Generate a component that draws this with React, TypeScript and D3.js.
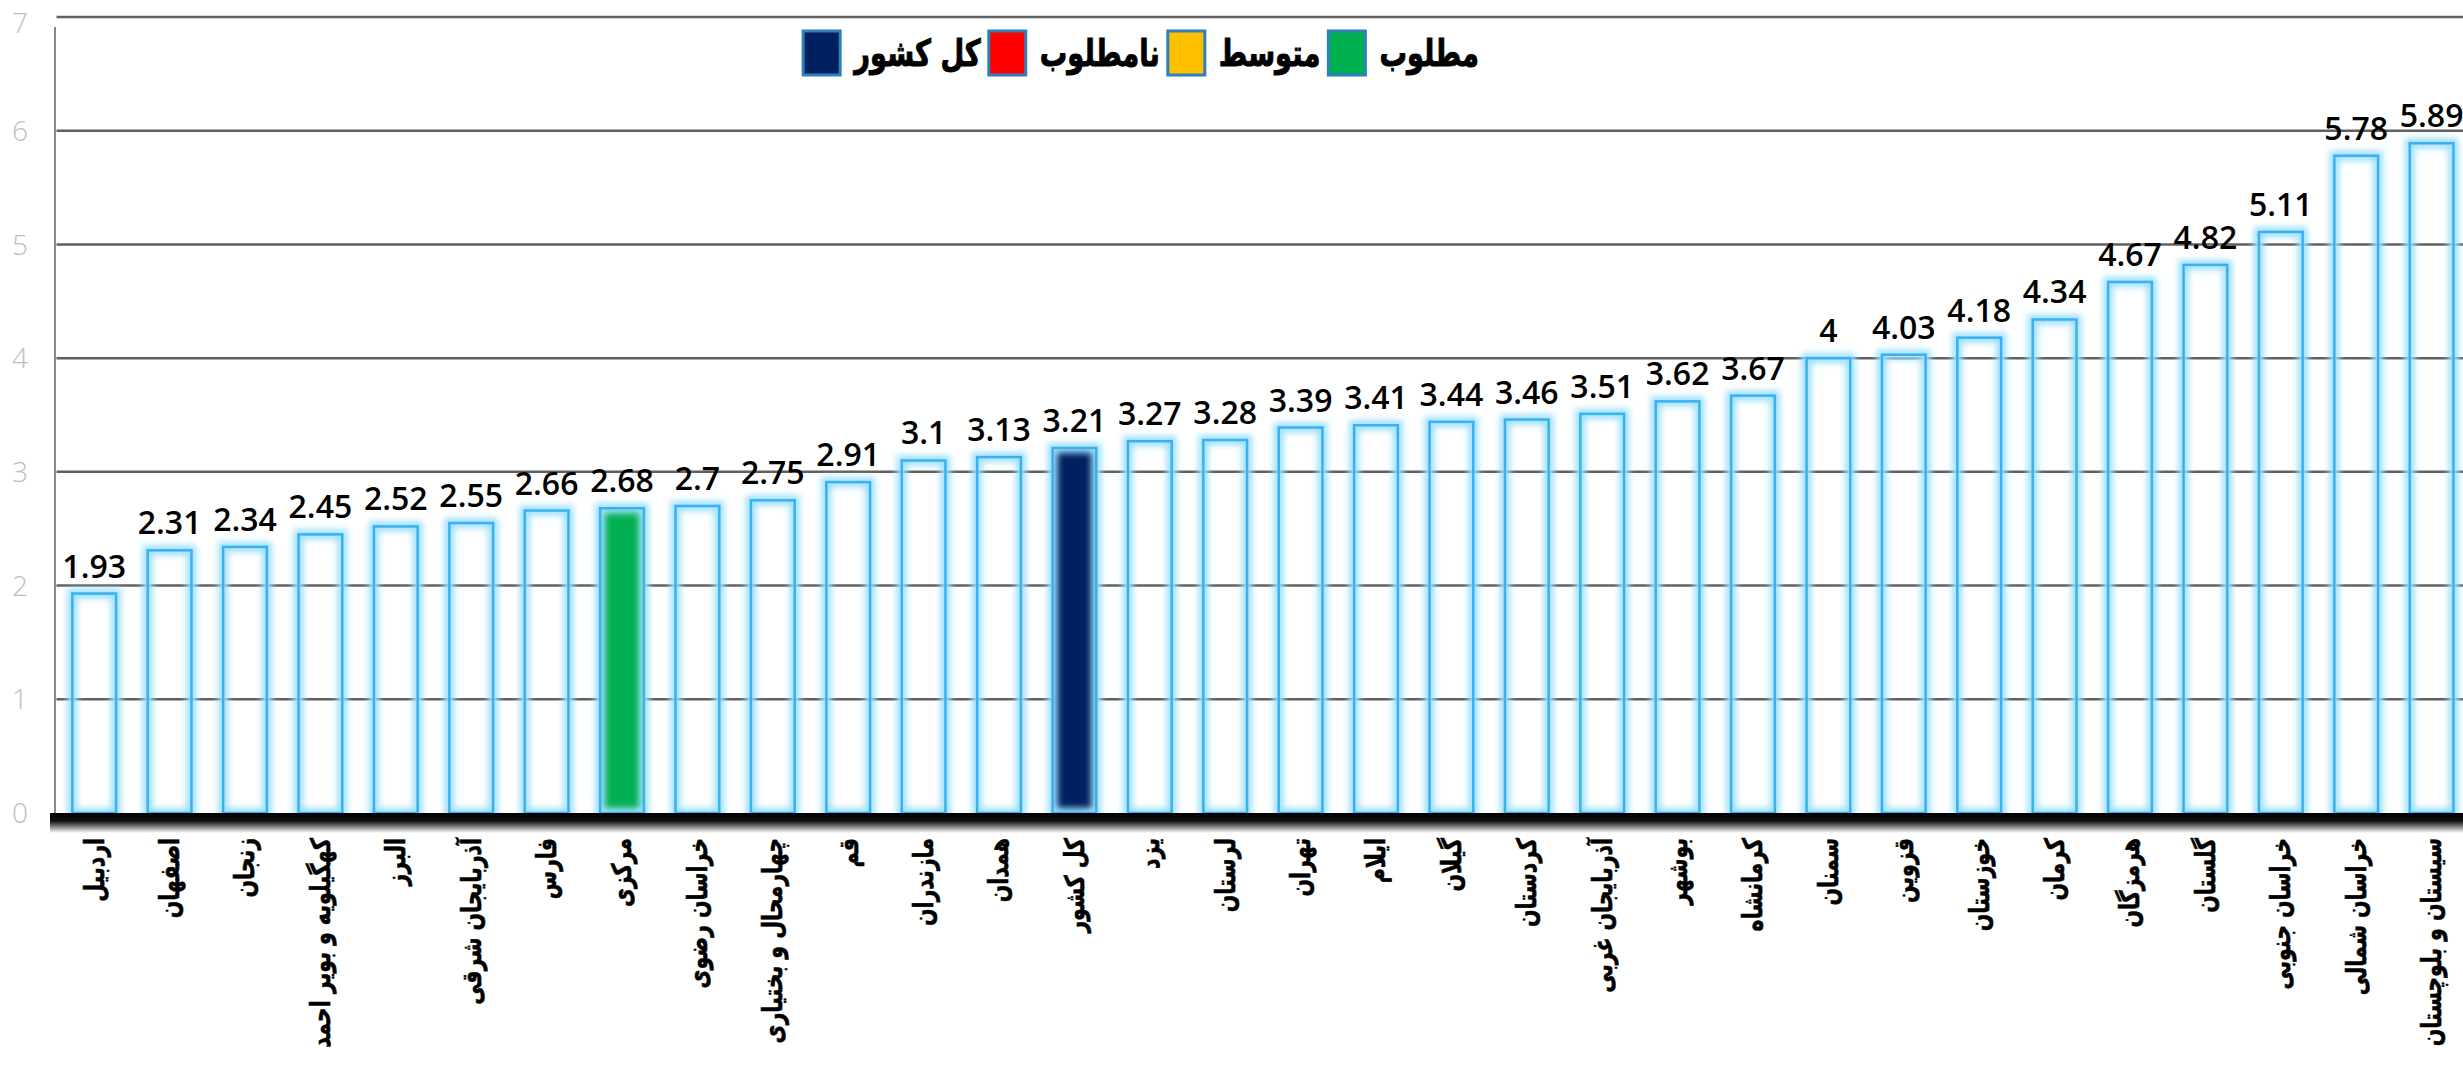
import React, { useEffect, useRef } from "react";
import * as d3 from "d3";

const categories = [
  "اردبیل", "اصفهان", "زنجان", "کهگیلویه و بویر احمد", "البرز", "آذربایجان شرقی",
  "فارس", "مرکزی", "خراسان رضوی", "چهارمحال و بختیاری", "قم", "مازندران", "همدان",
  "کل کشور", "یزد", "لرستان", "تهران", "ایلام", "گیلان", "کردستان", "آذربایجان غربی",
  "بوشهر", "کرمانشاه", "سمنان", "قزوین", "خوزستان", "کرمان", "هرمزگان", "گلستان",
  "خراسان جنوبی", "خراسان شمالی", "سیستان و بلوچستان",
];
const values = [
  1.93, 2.31, 2.34, 2.45, 2.52, 2.55, 2.66, 2.68, 2.7, 2.75, 2.91, 3.1, 3.13, 3.21, 3.27, 3.28,
  3.39, 3.41, 3.44, 3.46, 3.51, 3.62, 3.67, 4, 4.03, 4.18, 4.34, 4.67, 4.82, 5.11, 5.78, 5.89,
];
// which bars are filled, and with which legend class
const desirable = ["مرکزی"];
const national = ["کل کشور"];
const legendKeys = ["مطلوب", "متوسط", "نامطلوب", "کل کشور"];
const legendColors = ["#00b050", "#ffc000", "#ff0000", "#002060"];
const yTicks = [0, 1, 2, 3, 4, 5, 6, 7];

const W = 2463;
const H = 1068;

const App = () => {
  const ref = useRef<SVGSVGElement>(null);

  useEffect(() => {
    const svg = d3.select(ref.current);
    svg.selectAll("*").remove();

    const left = 56.5;
    const step = 75.4;
    const x = d3
      .scaleBand()
      .domain(categories)
      .range([left, left + step * categories.length])
      .paddingInner(0.42)
      .paddingOuter(0.21);
    const y = d3.scaleLinear().domain([0, 7]).range([813, 17]);
    const color = d3.scaleOrdinal<string, string>().domain(legendKeys).range(legendColors);

    const data = categories.map((c, i) => ({
      name: c,
      value: values[i],
      cls: desirable.includes(c) ? "مطلوب" : national.includes(c) ? "کل کشور" : null,
    }));

    const defs = svg.append("defs");
    defs
      .append("filter")
      .attr("id", "glow")
      .attr("x", "-50%")
      .attr("y", "-20%")
      .attr("width", "200%")
      .attr("height", "140%")
      .append("feGaussianBlur")
      .attr("stdDeviation", 3);
    defs
      .append("filter")
      .attr("id", "soft")
      .attr("x", "-200%")
      .attr("y", "-10%")
      .attr("width", "500%")
      .attr("height", "120%")
      .append("feGaussianBlur")
      .attr("stdDeviation", 2);
    const grad = defs
      .append("linearGradient")
      .attr("id", "baseShadow")
      .attr("x1", 0)
      .attr("y1", 0)
      .attr("x2", 0)
      .attr("y2", 1);
    grad.append("stop").attr("offset", 0).attr("stop-color", "#000");
    grad.append("stop").attr("offset", 0.4).attr("stop-color", "#111");
    grad.append("stop").attr("offset", 1).attr("stop-color", "#fff");

    // gridlines
    svg
      .append("g")
      .selectAll("line")
      .data(yTicks.filter((d) => d > 0))
      .enter()
      .append("line")
      .attr("x1", left)
      .attr("x2", W)
      .attr("y1", (d) => y(d))
      .attr("y2", (d) => y(d))
      .attr("stroke", "#606060")
      .attr("stroke-width", 2.5);

    // y axis line with shadow
    svg
      .append("line")
      .attr("x1", 52)
      .attr("x2", 52)
      .attr("y1", y(7) + 12)
      .attr("y2", y(0))
      .attr("stroke", "#555")
      .attr("stroke-width", 4)
      .attr("filter", "url(#soft)");
    svg
      .append("line")
      .attr("x1", 55)
      .attr("x2", 55)
      .attr("y1", y(7) + 10)
      .attr("y2", y(0))
      .attr("stroke", "#8a8a8a")
      .attr("stroke-width", 2);

    // y tick labels
    svg
      .append("g")
      .selectAll("text")
      .data(yTicks)
      .enter()
      .append("text")
      .attr("x", 20)
      .attr("y", (d) => Math.max(y(d), 23))
      .attr("dy", "0.36em")
      .attr("text-anchor", "middle")
      .attr("font-family", "'Open Sans', sans-serif")
      .attr("font-weight", 300)
      .attr("font-size", 28)
      .attr("fill", "#bdbdbd")
      .text((d) => d);

    // bars
    const bars = svg.selectAll(".bar").data(data).enter().append("g").attr("class", "bar");
    bars
      .append("rect")
      .attr("x", (d) => x(d.name)!)
      .attr("y", (d) => y(d.value))
      .attr("width", x.bandwidth())
      .attr("height", (d) => y(0) - y(d.value))
      .attr("fill", (d) => (d.cls ? color(d.cls) : "none"));
    bars
      .append("rect")
      .attr("x", (d) => x(d.name)!)
      .attr("y", (d) => y(d.value))
      .attr("width", x.bandwidth())
      .attr("height", (d) => y(0) - y(d.value))
      .attr("fill", "none")
      .attr("stroke", "#9fe0fc")
      .attr("stroke-width", 10)
      .attr("filter", "url(#glow)");
    bars
      .append("rect")
      .attr("x", (d) => x(d.name)!)
      .attr("y", (d) => y(d.value))
      .attr("width", x.bandwidth())
      .attr("height", (d) => y(0) - y(d.value))
      .attr("fill", "none")
      .attr("stroke", "#38b2ee")
      .attr("stroke-width", 2.5);

    // value labels
    bars
      .append("text")
      .attr("x", (d) => x(d.name)! + x.bandwidth() / 2)
      .attr("y", (d) => y(d.value) - 16)
      .attr("text-anchor", "middle")
      .attr("font-family", "'Open Sans', sans-serif")
      .attr("font-weight", 600)
      .attr("font-size", 32)
      .attr("fill", "#000")
      .text((d) => d.value);

    // x axis base with shadow
    svg
      .append("rect")
      .attr("x", 50)
      .attr("y", y(0))
      .attr("width", W - 50)
      .attr("height", 20)
      .attr("fill", "url(#baseShadow)");

    // category labels, condensed heavy text reading top to bottom
    svg
      .append("g")
      .selectAll("text")
      .data(categories)
      .enter()
      .append("text")
      .attr(
        "transform",
        (d) => `translate(${x(d)! + x.bandwidth() / 2},838) rotate(-90) scale(0.76,1)`
      )
      .attr("dy", "0.35em")
      .attr("text-anchor", "end")
      .attr("font-family", "'DejaVu Sans', sans-serif")
      .attr("font-weight", 700)
      .attr("font-size", 27)
      .attr("fill", "#000")
      .attr("stroke", "#000")
      .attr("stroke-width", 0.6)
      .text((d) => d);

    // legend, laid out right to left
    const legend = svg.append("g");
    const boxW = 37;
    const boxH = 44;
    const sx = 0.74;
    let cursor = 0;
    legendKeys.forEach((k) => {
      const g = legend.append("g");
      const t = g
        .append("text")
        .attr("text-anchor", "end")
        .attr("font-family", "'DejaVu Sans', sans-serif")
        .attr("font-weight", 700)
        .attr("font-size", 37)
        .attr("dy", "0.35em")
        .attr("fill", "#000")
        .attr("stroke", "#000")
        .attr("stroke-width", 1)
        .text(k);
      const tw = (t.node() as SVGTextElement).getComputedTextLength() * sx;
      t.attr("transform", `translate(${cursor},0) scale(${sx},1)`);
      const boxRight = cursor - tw - 14;
      g.append("rect")
        .attr("x", boxRight - boxW)
        .attr("y", -boxH / 2)
        .attr("width", boxW)
        .attr("height", boxH)
        .attr("fill", color(k))
        .attr("stroke", "#2e80ba")
        .attr("stroke-width", 3);
      cursor = boxRight - boxW - 8;
    });
    const totalW = -(cursor + 8);
    const center = 1141;
    legend.attr("transform", `translate(${center + totalW / 2},53)`);
  }, []);

  return (
    <svg
      ref={ref}
      width={W}
      height={H}
      style={{ position: "absolute", left: 0, top: 0, background: "#fff" }}
    />
  );
};

export default App;
